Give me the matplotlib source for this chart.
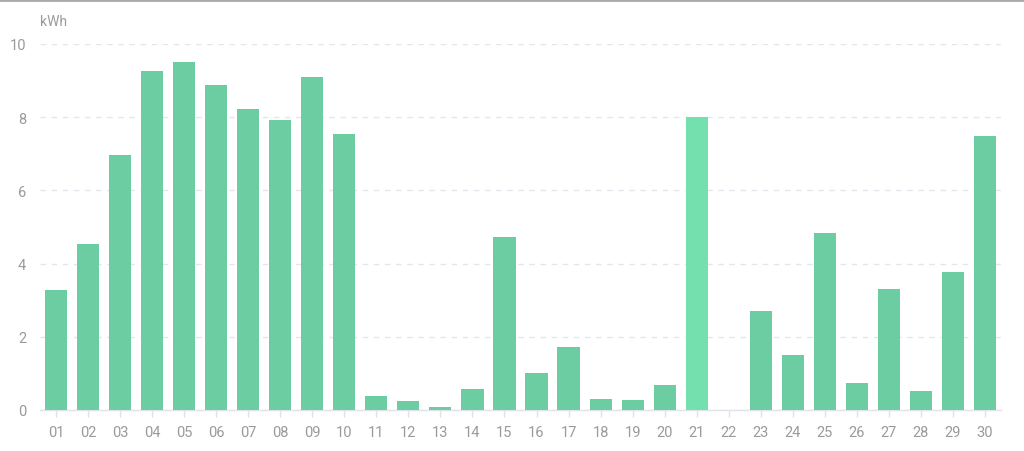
import matplotlib
matplotlib.use("Agg")
import matplotlib.pyplot as plt
from matplotlib.lines import Line2D

plt.rcParams['font.family'] = ['Roboto', 'DejaVu Sans']

days = [f"{i:02d}" for i in range(1, 31)]
energy = [3.28, 4.54, 6.97, 9.26, 9.51, 8.88, 8.22, 7.92, 9.10, 7.54,
          0.38, 0.25, 0.08, 0.57, 4.73, 1.01, 1.72, 0.30, 0.27, 0.68,
          8.01, 0.0, 2.70, 1.50, 4.84, 0.74, 3.31, 0.52, 3.77, 7.49]
highlight_day = "21"
y_ticks = [0, 2, 4, 6, 8, 10]
unit = "kWh"

base_color = "#6ccda2"
hl_color = "#74e0ae"
text_color = "#9a9a9a"

fig = plt.figure(figsize=(10.24, 4.52), dpi=100)
ax = fig.add_axes([40/1024, 41/452, 961/1024, 366/452])

colors = [hl_color if d == highlight_day else base_color for d in days]
x = list(range(len(days)))
ax.bar(x, energy, width=0.69, color=colors, zorder=3)

ax.set_xlim(-0.5, len(days) - 0.5)
ax.set_ylim(0, 10)
ax.set_yticks(y_ticks)
ax.set_yticklabels([str(t) for t in y_ticks])
ax.set_xticks(x)
ax.set_xticklabels(days)

ax.grid(axis='y', color="#e3e6ee", linestyle=(0, (4, 4)), linewidth=1, zorder=0)
ax.grid(axis='x', visible=False)

for s in ['top', 'right', 'left']:
    ax.spines[s].set_visible(False)
ax.spines['bottom'].set_color("#e0e3ea")
ax.spines['bottom'].set_linewidth(1)

ax.tick_params(axis='y', length=0, pad=10, labelsize=10.5, labelcolor=text_color)
ax.tick_params(axis='x', length=5, width=1, color="#e0e3ea", pad=6, labelsize=10.5, labelcolor=text_color)

fig.text(40/1024, 1 - 22/452, unit, ha='left', va='center', fontsize=10, color=text_color)

fig.add_artist(Line2D([0, 1], [1 - 1/452, 1 - 1/452], color="#a8a8a8", linewidth=2, transform=fig.transFigure))

fig.savefig("out.png", dpi=100, facecolor="white")
